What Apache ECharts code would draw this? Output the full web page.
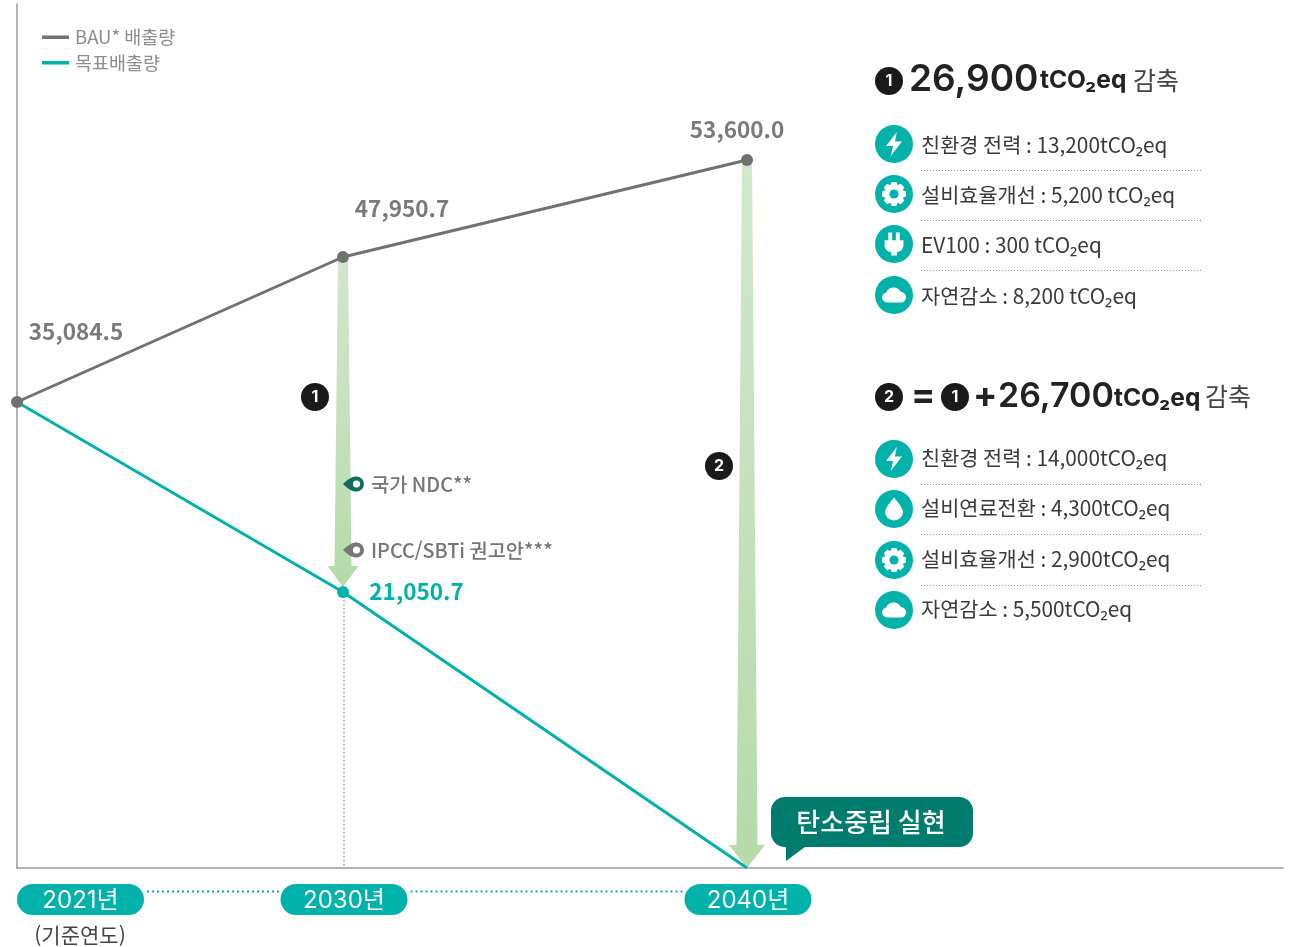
<!DOCTYPE html>
<html lang="ko">
<head>
<meta charset="utf-8">
<title>탄소중립 경로</title>
<style>html,body{margin:0;padding:0;background:#fff}#c{width:1299px;height:947px}</style>
<script src="https://cdn.jsdelivr.net/npm/echarts@6/dist/echarts.min.js"></script>
</head>
<body>
<div id="c"></div>
<script>
// ---- data ----
const years = [2021, 2030, 2040];
const yearTicks = ['2021년', '2030년', '2040년'];
const bauValues = [35084.5, 47950.7, 53600.0];
const targetValues = [35084.5, 21050.7, 0];
const seriesNames = ['BAU* 배출량', '목표배출량'];
const listOneLabels = ['친환경 전력 : 13,200tCO₂eq', '설비효율개선 : 5,200 tCO₂eq', 'EV100 : 300 tCO₂eq', '자연감소 : 8,200 tCO₂eq'];
const listOneIcons = ['bolt', 'gear', 'plug', 'cloud'];
const listTwoLabels = ['친환경 전력 : 14,000tCO₂eq', '설비연료전환 : 4,300tCO₂eq', '설비효율개선 : 2,900tCO₂eq', '자연감소 : 5,500tCO₂eq'];
const listTwoIcons = ['bolt', 'drop', 'gear', 'cloud'];

// The source drawing is not to scale: both axes are piecewise.
const xScale = [[2021, 0], [2030, 326], [2040, 730]];
const yScale = [[0, 0], [21050.7, 276], [35084.5, 466], [47950.7, 611], [53600, 708]];
function piecewise(table, v) {
  for (let i = 1; i < table.length; i++) {
    if (v <= table[i][0]) {
      const a = table[i - 1], b = table[i];
      return a[1] + (v - a[0]) / (b[0] - a[0]) * (b[1] - a[1]);
    }
  }
  return table[table.length - 1][1];
}
const X = y => piecewise(xScale, y);
const Y = v => piecewise(yScale, v);
const fmt = v => v.toLocaleString('en-US', { minimumFractionDigits: 1, maximumFractionDigits: 1 });

// ---- styles ----
const KR = '"Noto Sans CJK KR","Noto Sans",sans-serif';
const LATIN = 'Inter,"Noto Sans CJK KR",sans-serif';
const TEAL = '#00b2a9', GREY = '#717171', INK = '#3a3a3a';

function gearPath() {
  const teeth = 8, R = 12, r = 9.2, c = 12; let d = '';
  for (let i = 0; i < teeth; i++) {
    const a = i / teeth * Math.PI * 2, w = 0.2, g = 0.2;
    const pts = [[r, a - w - g], [R, a - w], [R, a + w], [r, a + w + g]];
    pts.forEach(p => {
      d += (d ? 'L' : 'M') + (c + p[0] * Math.cos(p[1])).toFixed(2) + ' ' + (c + p[0] * Math.sin(p[1])).toFixed(2);
    });
  }
  return d + 'Z';
}
const iconPaths = {
  bolt: { d: 'M14.5 0L3 14H10.5L8 24L20 9.5H12.5Z', w: 16, h: 24 },
  gear: { d: gearPath(), w: 24, h: 24, hole: 4.6 },
  plug: { d: 'M6 0H10V8H14V0H18V8H22V13C22 18 18 20 15 20.5V24H9V20.5C6 20 2 18 2 13V8H6Z', w: 19, h: 23 },
  cloud: { d: 'M6 18A5 5 0 0 1 5 8.2A7 7 0 0 1 18 7.5A5.4 5.4 0 0 1 19 18Z', w: 24, h: 15 },
  drop: { d: 'M12 0C12 0 3 11 3 16A9 9 0 0 0 21 16C21 11 12 0 12 0Z', w: 18, h: 23 }
};
function icon(name, cx, cy) {
  const p = iconPaths[name];
  const out = [
    { type: 'circle', shape: { cx, cy, r: 19 }, style: { fill: TEAL } },
    { type: 'path', shape: { pathData: p.d, layout: 'cover', x: cx - p.w / 2, y: cy - p.h / 2, width: p.w, height: p.h }, style: { fill: '#fff' } }
  ];
  if (p.hole) out.push({ type: 'circle', shape: { cx, cy, r: p.hole }, style: { fill: TEAL } });
  return out;
}
function text(t, x, y, size, color, opts) {
  opts = opts || {};
  return { type: 'text', x, y, style: { text: t, fill: color, font: (opts.weight || 400) + ' ' + size + 'px ' + (opts.family || KR), align: opts.align || 'left', verticalAlign: 'middle' } };
}
function badge(n, cx, cy) {
  return [
    { type: 'circle', shape: { cx, cy, r: 14 }, style: { fill: '#1a1a1a' } },
    text(String(n), cx, cy, 16, '#fff', { weight: 700, align: 'center', family: LATIN })
  ];
}
function eye(cx, cy, color) {
  const s = 'M0 7.5C5 2.5 9 0 13.5 0A7.5 7.5 0 0 1 13.5 15C9 15 5 12.5 0 7.5Z';
  return [
    { type: 'path', shape: { pathData: s, layout: 'cover', x: cx, y: cy - 7.5, width: 21, height: 15 }, style: { fill: color } },
    { type: 'circle', shape: { cx: cx + 13.5, cy, r: 3.6 }, style: { fill: '#fff' } }
  ];
}
function list(labels, icons, ys, textShift) {
  let out = [];
  labels.forEach((t, i) => {
    out = out.concat(icon(icons[i], 894, ys[i]));
    out.push(text(t, 921, ys[i] + textShift, 20.8, INK));
    if (i < labels.length - 1) {
      const ly = ys[i] + 26.5 + (textShift < 0 ? -1 : 0);
      out.push({ type: 'line', shape: { x1: 921, y1: ly, x2: 1203, y2: ly }, style: { stroke: '#8f8f8f', lineWidth: 1, lineDash: [1, 2] } });
    }
  });
  return out;
}

const annotations = [].concat(
  badge(1, 315, 397), badge(2, 719, 466),
  eye(343, 484, '#156b60'), eye(343, 550, '#777777'),
  [text('국가 NDC**', 371, 484, 19.8, '#757575', { weight: 500 }),
   text('IPCC/SBTi 권고안***', 371, 550, 19.8, '#757575', { weight: 500 })],
  // callout
  [{ type: 'path', shape: { pathData: 'M14 0H188A14 14 0 0 1 202 14V36A14 14 0 0 1 188 50H34L15 64V50H14A14 14 0 0 1 0 36V14A14 14 0 0 1 14 0Z', layout: 'cover', x: 771, y: 797, width: 202, height: 64 }, style: { fill: '#007c6f' } },
   text('탄소중립 실현', 871, 822, 26, '#fff', { weight: 500, align: 'center' }),
   text('(기준연도)', 80, 935, 21, '#444', { align: 'center' })],
  // right panel heads
  badge(1, 889, 81),
  [text('26,900', 909, 80, 37, '#222', { weight: 600, family: LATIN }),
   text('tCO₂eq', 1040, 81, 24.5, '#222', { weight: 700, family: LATIN }),
   text('감축', 1133, 80, 25, '#444')],
  list(listOneLabels, listOneIcons, [144, 194, 244, 295], 1),
  badge(2, 889, 397), badge(1, 955, 397),
  [text('=', 911, 396, 36, '#222', { weight: 700, family: LATIN }),
   text('+', 973, 396, 36, '#222', { weight: 700, family: LATIN }),
   text('26,700', 998, 397, 34, '#222', { weight: 600, family: LATIN }),
   text('tCO₂eq', 1114, 399, 24.5, '#222', { weight: 700, family: LATIN }),
   text('감축', 1205, 396, 25, '#444')],
  list(listTwoLabels, listTwoIcons, [459, 509, 560, 610], -1)
);

const arrowShape = [
  { top: 10, bottom: 17, head: 31, headLen: 21, gap: 5 },
  { top: 10, bottom: 21, head: 36, headLen: 23, gap: 0 }
];
const arrowData = [
  [X(years[1]), Y(bauValues[1]), Y(targetValues[1])],
  [X(years[2]), Y(bauValues[2]), Y(targetValues[2])]
];
const pillData = years.map((y, i) => [X(y), 0, i]);

const labelStyle = { show: true, position: 'inside', color: '#7a7a7a', fontFamily: KR, fontSize: 22.5, fontWeight: 700 };
const bauOffsets = [[59, -71], [59, -49], [-10, -31]];

const option = {
  animation: false,
  backgroundColor: '#fff',
  legend: {
    show: true, left: 37, top: 23, orient: 'vertical', icon: 'rect',
    itemWidth: 27, itemHeight: 3.5, itemGap: 7, selectedMode: false,
    data: seriesNames,
    textStyle: { fontFamily: KR, fontSize: 18.5, color: '#8c8c8c', padding: [0, 0, 0, 1] }
  },
  grid: { left: 17, right: 16, top: 4, bottom: 79, containLabel: false },
  xAxis: { type: 'value', min: 0, max: 1266, splitLine: { show: false }, axisTick: { show: false }, axisLabel: { show: false },
    axisLine: { show: true, onZero: false, lineStyle: { color: '#9a9a9a', width: 1.5 } } },
  yAxis: { type: 'value', min: 0, max: 864, splitLine: { show: false }, axisTick: { show: false }, axisLabel: { show: false },
    axisLine: { show: true, onZero: false, lineStyle: { color: '#9a9a9a', width: 1.5 } } },
  series: [
    { type: 'custom', name: 'guide', z: 1, silent: true, data: [[X(years[1]), Y(targetValues[1])]],
      renderItem(p, api) {
        const a = api.coord([api.value(0), api.value(1)]), b = api.coord([api.value(0), 0]);
        return { type: 'line', shape: { x1: a[0] + 1, y1: a[1], x2: a[0] + 1, y2: b[1] }, style: { stroke: '#777', lineWidth: 1, lineDash: [1.5, 2.5] } };
      } },
    { type: 'custom', name: 'reduction', z: 2, silent: true, data: arrowData,
      renderItem(p, api) {
        const s = arrowShape[p.dataIndex];
        const t = api.coord([api.value(0), api.value(1)]), e = api.coord([api.value(0), api.value(2)]);
        const x = t[0], y0 = t[1], tip = e[1] - s.gap, hb = tip - s.headLen;
        return { type: 'polygon',
          shape: { points: [[x - s.top / 2, y0], [x + s.top / 2, y0], [x + s.bottom / 2, hb], [x + s.head / 2, hb], [x, tip], [x - s.head / 2, hb], [x - s.bottom / 2, hb]] },
          style: { fill: new echarts.graphic.LinearGradient(0, 0, 0, 1, [{ offset: 0, color: '#d2e7cc' }, { offset: 1, color: '#b5dba9' }]) } };
      } },
    { type: 'line', name: seriesNames[1], z: 3, symbol: 'circle', symbolSize: 12, showSymbol: true,
      itemStyle: { color: TEAL }, lineStyle: { color: TEAL, width: 3 },
      data: targetValues.map((v, i) => ({
        value: [X(years[i]), Y(v)],
        symbolSize: i === 1 ? 12 : 0,
        label: i === 1 ? { ...labelStyle, color: TEAL, formatter: fmt(v), offset: [73.5, -1] } : { show: false }
      })) },
    { type: 'line', name: seriesNames[0], z: 4, symbol: 'circle', symbolSize: 12, showSymbol: true,
      itemStyle: { color: GREY }, lineStyle: { color: GREY, width: 3 },
      data: bauValues.map((v, i) => ({
        value: [X(years[i]), Y(v)],
        label: { ...labelStyle, formatter: fmt(v), offset: bauOffsets[i] }
      })) },
    { type: 'custom', name: 'years', z: 5, silent: true, data: pillData,
      renderItem(p, api) {
        const i = api.value(2), c = api.coord([api.value(0), api.value(1)]);
        const left = i === 0 ? c[0] : c[0] - 62.5, w = 127, top = c[1] + 16, h = 31;
        const kids = [
          { type: 'rect', shape: { x: left, y: top, width: w, height: h, r: 15.5 }, style: { fill: TEAL } },
          { type: 'text', x: left + w / 2, y: top + h / 2 + 1, style: { text: yearTicks[i], fill: '#fff', font: '400 24px ' + LATIN, align: 'center', verticalAlign: 'middle' } }
        ];
        if (i < years.length - 1) {
          const n = api.coord([pillData[i + 1][0], 0]);
          kids.push({ type: 'line', shape: { x1: left + w + 3, y1: top + 7.5, x2: n[0] - 64, y2: top + 7.5 }, style: { stroke: TEAL, lineWidth: 2, lineDash: [2, 3] } });
        }
        return { type: 'group', children: kids };
      } },
    { type: 'custom', name: 'annotations', z: 6, silent: true, coordinateSystem: 'none', data: [[0]],
      renderItem() { return { type: 'group', children: annotations }; } }
  ]
};
const chart = echarts.init(document.getElementById('c'), null, { renderer: 'canvas', width: 1299, height: 947 });
chart.setOption(option);
</script>
</body>
</html>
